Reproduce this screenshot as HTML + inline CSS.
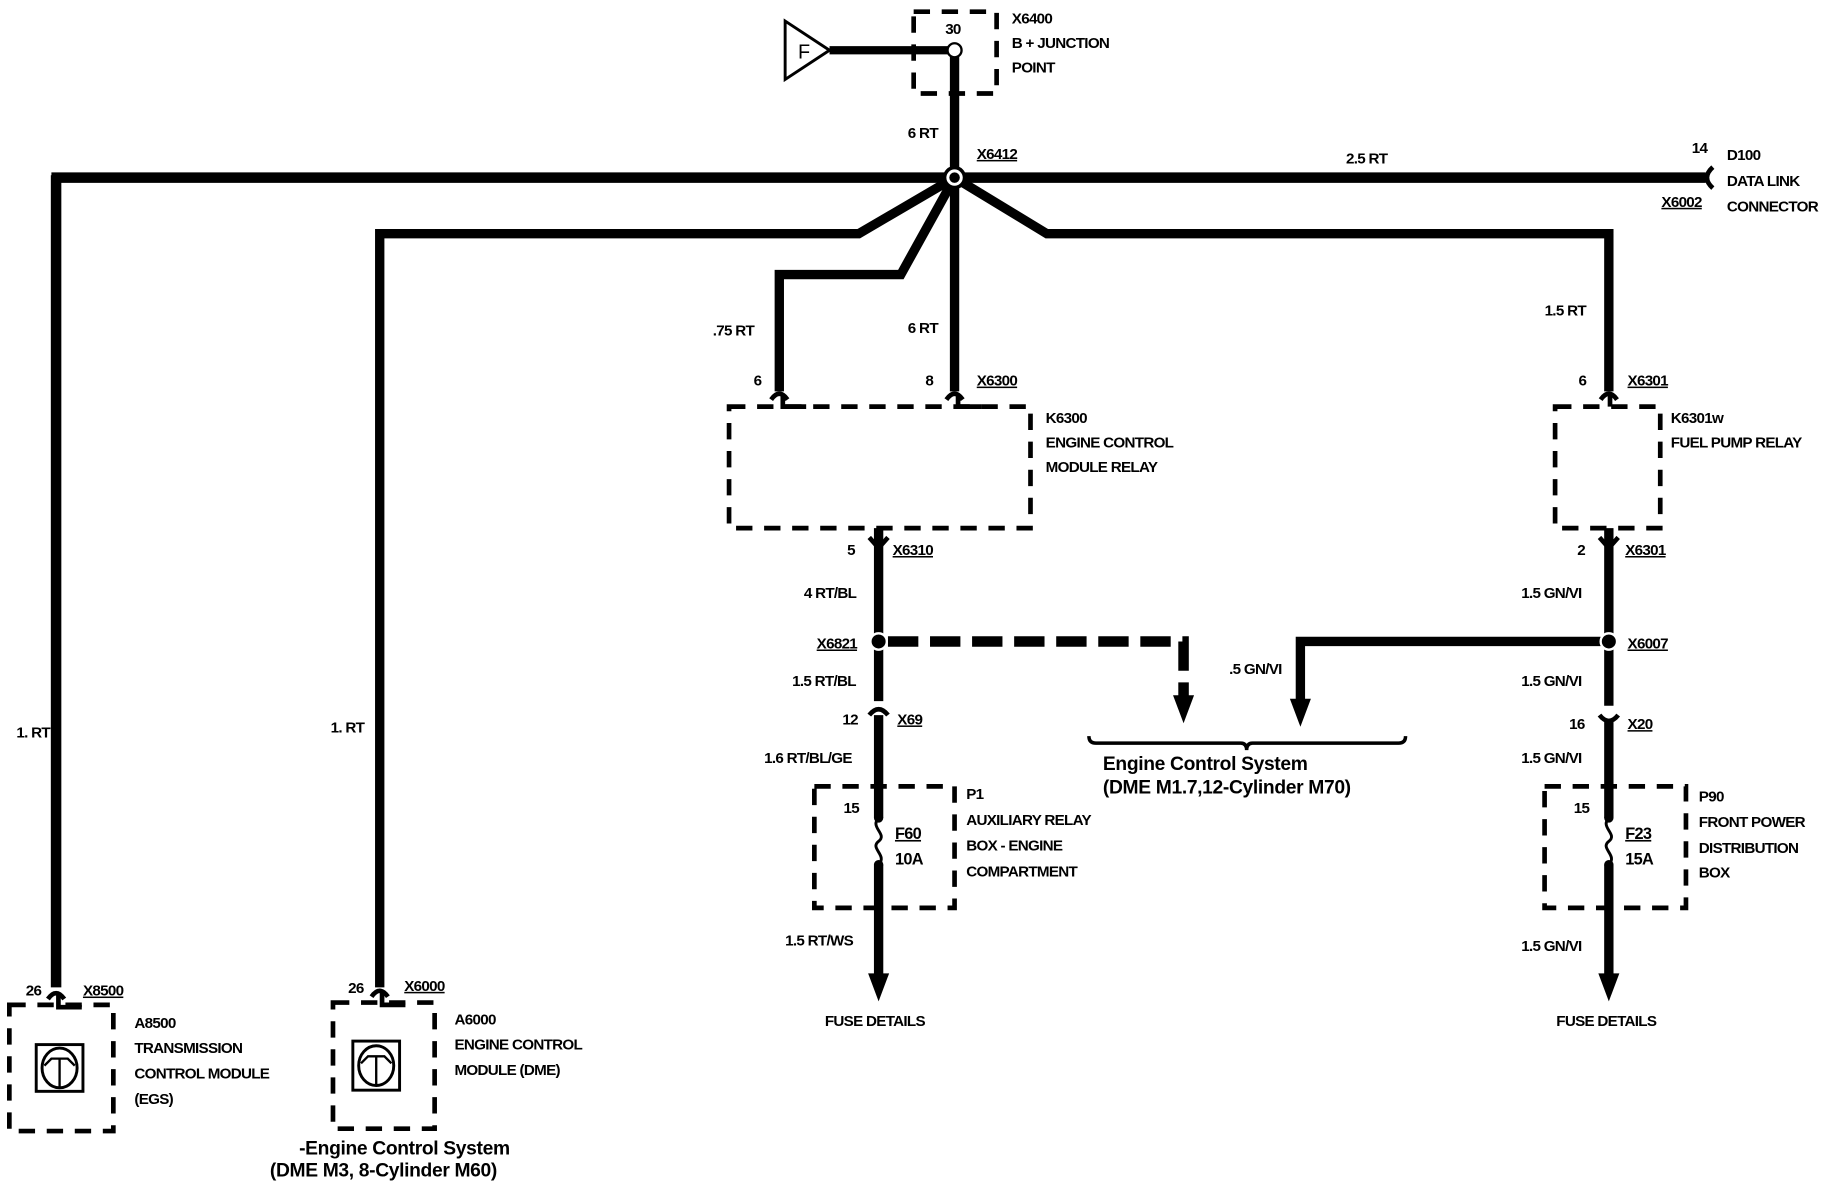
<!DOCTYPE html>
<html><head><meta charset="utf-8"><style>
html,body{margin:0;padding:0;background:#fff;}
svg{display:block;}
text{font-family:"Liberation Sans",sans-serif;font-weight:bold;font-size:13px;fill:#000;letter-spacing:-0.6px;}
.big{font-size:16.5px;letter-spacing:-0.3px;}
.u{text-decoration:underline;}
</style></head><body>
<svg width="1832" height="1200" viewBox="0 0 1568 1027" preserveAspectRatio="none" xmlns="http://www.w3.org/2000/svg">
<g fill="none" stroke="#000" stroke-linejoin="miter">
<polygon points="672,18 672,68 710,43" stroke-width="2.5"/>
<line x1="710" y1="43" x2="812" y2="43" stroke-width="7"/>
<rect x="782" y="10" width="71" height="70" stroke-width="4" stroke-dasharray="14,10"/>
<line x1="817" y1="47" x2="817" y2="152" stroke-width="8"/>
<line x1="44" y1="152" x2="1460" y2="152" stroke-width="9"/>
<polyline points="48,150 48,845" stroke-width="9"/>
<polyline points="817,152 735,200 325,200 325,845" stroke-width="8"/>
<polyline points="817,152 771,235 667,235 667,335" stroke-width="8"/>
<line x1="817" y1="152" x2="817" y2="335" stroke-width="8"/>
<polyline points="817,152 896,200 1377,200 1377,335" stroke-width="8"/>
<path d="M660,342 Q667,332 674,342" stroke-width="4"/>
<path d="M810,342 Q817,332 824,342" stroke-width="4"/>
<path d="M1370,342 Q1377,332 1384,342" stroke-width="4"/>
<polyline points="670,338 670,348 690,348" stroke-width="4"/>
<polyline points="820,338 820,348 840,348" stroke-width="4"/>
<line x1="1378" y1="338" x2="1378" y2="348" stroke-width="4"/>
<path d="M1466,143 Q1456,152 1466,161" stroke-width="4"/>
<rect x="624" y="348" width="258" height="104" stroke-width="4" stroke-dasharray="14,10"/>
<rect x="1331" y="348" width="90" height="104" stroke-width="4" stroke-dasharray="14,10"/>
<path d="M744,460 L752,469 L760,460" stroke-width="4"/>
<line x1="752" y1="452" x2="752" y2="600" stroke-width="8"/>
<path d="M744,612 Q752,602 760,612" stroke-width="4"/>
<line x1="752" y1="612" x2="752" y2="700" stroke-width="8"/>
<path d="M752,700 C744,708 760,714 752,720 C744,726 760,732 752,740" stroke-width="2.5"/>
<line x1="752" y1="740" x2="752" y2="835" stroke-width="8"/>
<rect x="697" y="673" width="120" height="104" stroke-width="4" stroke-dasharray="14,10"/>
<polyline points="760,549 1013,549 1013,597" stroke-width="9" stroke-dasharray="26,10"/>
<path d="M1369,460 L1377,469 L1385,460" stroke-width="4"/>
<line x1="1377" y1="452" x2="1377" y2="604" stroke-width="8"/>
<path d="M1369,612 Q1377,622 1385,612" stroke-width="4"/>
<line x1="1377" y1="616" x2="1377" y2="700" stroke-width="8"/>
<path d="M1377,700 C1369,708 1385,714 1377,720 C1369,726 1385,732 1377,740" stroke-width="2.5"/>
<line x1="1377" y1="740" x2="1377" y2="835" stroke-width="8"/>
<rect x="1322" y="673" width="121" height="104" stroke-width="4" stroke-dasharray="14,10"/>
<polyline points="1370,549 1113,549 1113,600" stroke-width="8"/>
<path d="M932,630 Q932,636 938,636 L1062,636 Q1067,636 1067,642 Q1067,636 1072,636 L1197,636 Q1203,636 1203,630" stroke-width="3"/>
<path d="M41,855 Q48,845 55,855" stroke-width="4"/>
<polyline points="50,851 50,862 70,862" stroke-width="4"/>
<path d="M318,853 Q325,843 332,853" stroke-width="4"/>
<polyline points="327,849 327,860 347,860" stroke-width="4"/>
<rect x="8" y="860" width="89" height="108" stroke-width="4" stroke-dasharray="14,10"/>
<rect x="285" y="858" width="87" height="108" stroke-width="4" stroke-dasharray="14,10"/>
<rect x="31" y="894" width="40" height="40" stroke-width="2.5"/>
<ellipse cx="51" cy="914" rx="15" ry="17" stroke-width="2.5"/>
<path d="M38,912 L44,906 L58,906 L64,912 M51,906 L51,931" stroke-width="2"/>
<rect x="302" y="891" width="40" height="42" stroke-width="2.5"/>
<ellipse cx="322" cy="912" rx="15" ry="17" stroke-width="2.5"/>
<path d="M309,910 L315,904 L329,904 L335,910 M322,904 L322,929" stroke-width="2"/>
</g>
<g fill="#000">
<polygon points="743,833 761,833 752,857"/>
<polygon points="1368,833 1386,833 1377,857"/>
<polygon points="1004,595 1022,595 1013,619"/>
<polygon points="1104,598 1122,598 1113,622"/>
<circle cx="817" cy="152" r="10"/>
<circle cx="817" cy="152" r="7" fill="#fff"/>
<circle cx="817" cy="152" r="4.5"/>
<circle cx="817" cy="43" r="6" fill="#fff" stroke="#000" stroke-width="2"/>
<circle cx="752" cy="549" r="7" stroke="#fff" stroke-width="2"/>
<circle cx="1377" cy="549" r="7" stroke="#fff" stroke-width="2"/>
<circle cx="752" cy="700" r="4"/><circle cx="752" cy="740" r="4"/>
<circle cx="1377" cy="700" r="4"/><circle cx="1377" cy="740" r="4"/>
</g>
<text x="683" y="50" style="font-weight:normal;font-size:17px">F</text>
<text x="809" y="29">30</text>
<text x="866" y="20">X6400</text>
<text x="866" y="41">B + JUNCTION</text>
<text x="866" y="62">POINT</text>
<text x="777" y="118">6 RT</text>
<text x="836" y="136" class="u">X6412</text>
<text x="1152" y="140">2.5 RT</text>
<text x="1448" y="131">14</text>
<text x="1478" y="137">D100</text>
<text x="1478" y="159">DATA LINK</text>
<text x="1478" y="181">CONNECTOR</text>
<text x="1422" y="177" class="u">X6002</text>
<text x="610" y="287">.75 RT</text>
<text x="777" y="285">6 RT</text>
<text x="1322" y="270">1.5 RT</text>
<text x="645" y="330">6</text>
<text x="792" y="330">8</text>
<text x="836" y="330" class="u">X6300</text>
<text x="1351" y="330">6</text>
<text x="1393" y="330" class="u">X6301</text>
<text x="895" y="362">K6300</text>
<text x="895" y="383">ENGINE CONTROL</text>
<text x="895" y="404">MODULE RELAY</text>
<text x="1430" y="362">K6301w</text>
<text x="1430" y="383">FUEL PUMP RELAY</text>
<text x="725" y="475">5</text>
<text x="764" y="475" class="u">X6310</text>
<text x="1350" y="475">2</text>
<text x="1391" y="475" class="u">X6301</text>
<text x="688" y="512">4 RT/BL</text>
<text x="1302" y="512">1.5 GN/VI</text>
<text x="699" y="555" class="u">X6821</text>
<text x="1393" y="555" class="u">X6007</text>
<text x="1052" y="577">.5 GN/VI</text>
<text x="678" y="587">1.5 RT/BL</text>
<text x="1302" y="587">1.5 GN/VI</text>
<text x="721" y="620">12</text>
<text x="768" y="620" class="u">X69</text>
<text x="1343" y="624">16</text>
<text x="1393" y="624" class="u">X20</text>
<text x="654" y="653">1.6 RT/BL/GE</text>
<text x="1302" y="653">1.5 GN/VI</text>
<text x="944" y="659" class="big">Engine Control System</text>
<text x="944" y="679" class="big">(DME M1.7,12-Cylinder M70)</text>
<text x="722" y="696">15</text>
<text x="766" y="718" class="u" style="font-size:14px">F60</text>
<text x="766" y="740" style="font-size:14px">10A</text>
<text x="827" y="684">P1</text>
<text x="827" y="706">AUXILIARY RELAY</text>
<text x="827" y="728">BOX - ENGINE</text>
<text x="827" y="750">COMPARTMENT</text>
<text x="1347" y="696">15</text>
<text x="1391" y="718" class="u" style="font-size:14px">F23</text>
<text x="1391" y="740" style="font-size:14px">15A</text>
<text x="1454" y="686">P90</text>
<text x="1454" y="708">FRONT POWER</text>
<text x="1454" y="730">DISTRIBUTION</text>
<text x="1454" y="751">BOX</text>
<text x="672" y="809">1.5 RT/WS</text>
<text x="1302" y="814">1.5 GN/VI</text>
<text x="706" y="878">FUSE DETAILS</text>
<text x="1332" y="878">FUSE DETAILS</text>
<text x="14" y="631">1. RT</text>
<text x="283" y="627">1. RT</text>
<text x="22" y="852">26</text>
<text x="71" y="852" class="u">X8500</text>
<text x="298" y="850">26</text>
<text x="346" y="848" class="u">X6000</text>
<text x="115" y="880">A8500</text>
<text x="115" y="901">TRANSMISSION</text>
<text x="115" y="923">CONTROL MODULE</text>
<text x="115" y="945">(EGS)</text>
<text x="389" y="877">A6000</text>
<text x="389" y="898">ENGINE CONTROL</text>
<text x="389" y="920">MODULE (DME)</text>
<text x="256" y="988" class="big">-Engine Control System</text>
<text x="231" y="1007" class="big">(DME M3, 8-Cylinder M60)</text>
</svg>
</body></html>
